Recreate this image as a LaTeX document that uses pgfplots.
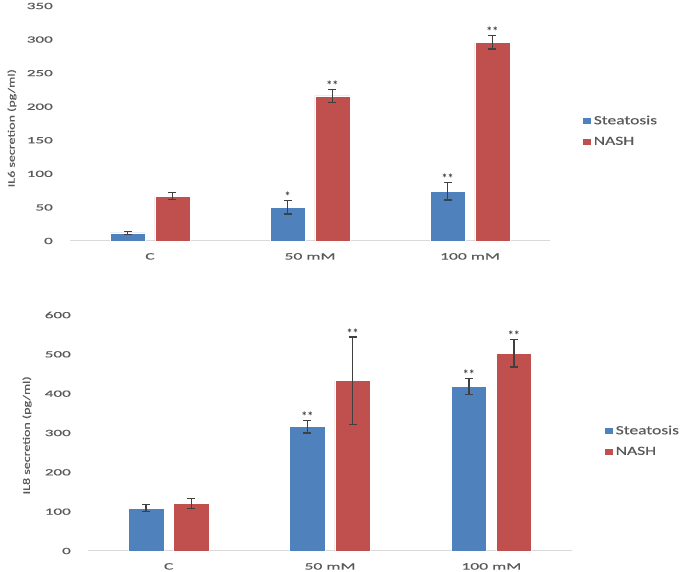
\documentclass[border=0pt]{standalone}
\usepackage{fontspec}
\setmainfont{Carlito}[FakeStretch=1.4, FakeBold=0.4]
\newfontfamily\tickfont{Carlito}[FakeStretch=1.8, FakeBold=0.5]
\newfontfamily\starfont{Carlito}[FakeStretch=1.0]
\usepackage{pgfplots}
\pgfplotsset{compat=1.18}
\definecolor{stblue}{HTML}{4F81BD}
\definecolor{nashred}{HTML}{C0504D}
\definecolor{txtgray}{HTML}{595959}
\definecolor{errgray}{HTML}{404040}
\definecolor{axgray}{HTML}{D9D9D9}
\pgfplotsset{
  mystyle/.style={
    scale only axis,
    xmin=-0.5, xmax=2.5, ymin=0,
    axis x line*=bottom,
    axis y line*=left,
    x axis line style={draw=axgray, line width=1pt},
    y axis line style={draw=none},
    major tick length=0pt,
    xtick={0,1,2},
    xticklabels={C,50 mM,100 mM},
    yticklabel style={font=\tickfont\fontsize{9.5}{11}\selectfont, text=txtgray, anchor=east, inner sep=0pt, xshift=-17pt},
    xticklabel style={font=\tickfont\fontsize{9.8}{11}\selectfont, text=txtgray, anchor=north, inner sep=0pt, yshift=-12pt},
    /pgf/number format/assume math mode=true,
    ylabel style={font=\fontsize{10}{12}\selectfont, text=txtgray, anchor=center},
    legend style={draw=none, fill=none, font=\fontsize{12.5}{14}\selectfont, text=txtgray, inner sep=0pt, row sep=7pt, anchor=west},
    legend cell align=left,
    legend image code/.code={\fill[##1] (0pt,-3.5pt) rectangle (9pt,3.5pt);},
  },
  barstyle/.style={ybar, bar width=0.22, draw=white, line width=0.6pt,
    error bars/y dir=both, error bars/y explicit,
    error bars/error bar style={draw=errgray, line width=1.5pt},
    error bars/error mark options={draw=errgray, rotate=90, mark size=4pt, line width=1.5pt}},
  starstyle/.style={draw=none, mark=none, forget plot, nodes near coords,
    point meta=explicit symbolic,
    nodes near coords style={anchor=south, inner sep=0.5pt, font=\starfont\fontsize{12}{13}\selectfont\bfseries, text=errgray}},
}
\begin{document}
\begin{tikzpicture}
\path[use as bounding box] (0,0) rectangle (685pt,572pt);
% ---------- top: IL6 ----------
\begin{axis}[mystyle,
  at={(70pt,331pt)}, anchor=south west,
  width=480pt, height=235pt,
  ymax=350, ytick={0,50,...,350},
  ylabel={IL6 secretion (pg/ml)},
  ylabel style={at={(axis description cs:-0.121,0.48)}},
  legend style={at={(1.0667,0.468)}},
]
\addplot[barstyle, fill=stblue] coordinates {
  (-0.14,12) +- (0,2)
  (0.86,50) +- (0,10)
  (1.86,74) +- (0,13)
};
\addlegendentry{Steatosis}
\addplot[barstyle, fill=nashred] coordinates {
  (0.14,67) +- (0,5)
  (1.14,216) +- (0,10)
  (2.14,296) +- (0,10)
};
\addlegendentry{NASH}
\addplot[starstyle] coordinates {
  (0.86,59) [*]
  (1.86,86) [**]
  (1.14,225) [**]
  (2.14,305) [**]
};
\end{axis}
% ---------- bottom: IL8 ----------
\begin{axis}[mystyle,
  at={(88pt,21pt)}, anchor=south west,
  width=484pt, height=236pt,
  ymax=600, ytick={0,100,...,600},
  ylabel={IL8 secretion (pg/ml)},
  ylabel style={at={(axis description cs:-0.126,0.49)}},
  legend style={at={(1.066,0.466)}},
]
\addplot[barstyle, fill=stblue] coordinates {
  (-0.14,109) +- (0,9)
  (0.86,316) +- (0,16)
  (1.86,418) +- (0,20)
};
\addlegendentry{Steatosis}
\addplot[barstyle, fill=nashred] coordinates {
  (0.14,121) +- (0,13)
  (1.14,433) +- (0,111)
  (2.14,503) +- (0,35)
};
\addlegendentry{NASH}
\addplot[starstyle] coordinates {
  (0.86,330) [**]
  (1.14,542) [**]
  (1.86,436) [**]
  (2.14,536) [**]
};
\end{axis}
\end{tikzpicture}
\end{document}
